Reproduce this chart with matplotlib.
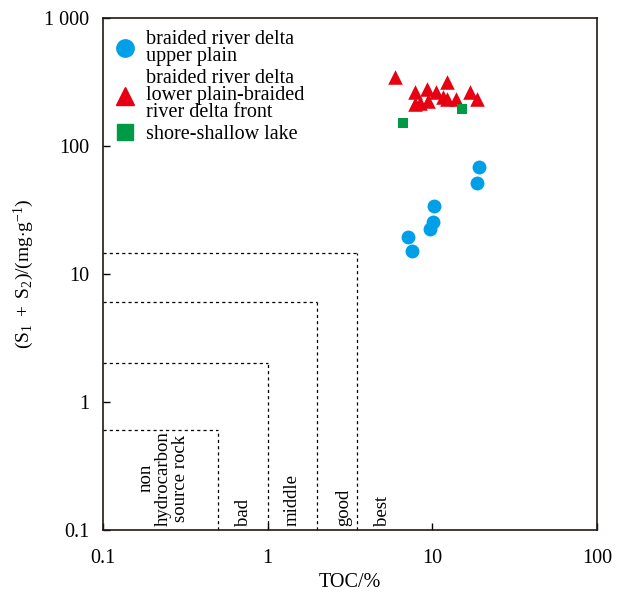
import matplotlib
matplotlib.use('Agg')
import matplotlib.pyplot as plt
from matplotlib.lines import Line2D

plt.rcParams['font.family'] = 'Liberation Serif'
plt.rcParams['mathtext.fontset'] = 'custom'
plt.rcParams['mathtext.rm'] = 'Liberation Serif'
plt.rcParams['mathtext.it'] = 'Liberation Serif:italic'

# upper plain (circles)
upper_toc = [19.2, 18.7, 10.2, 10.1, 9.7, 7.1, 7.5]
upper_s12 = [68.5, 51.4, 34.0, 25.5, 22.5, 19.5, 15.1]

# lower plain - delta front (triangles)
lower_toc = [5.9, 7.85, 9.3, 10.5, 12.3, 7.85, 8.4, 9.4, 11.6, 12.3, 13.9, 16.9, 18.7]
lower_s12 = [346, 264, 279, 264, 316, 213, 217, 225, 241, 233, 233, 264, 233]

# shore-shallow lake (squares)
lake_toc = [6.6, 15.1]
lake_s12 = [151, 195]

# evaluation boundaries
toc_limits = [0.5, 1, 2, 3.5]
s12_limits = [0.6, 2, 6, 14.5]
grade_labels = ['non\nhydrocarbon\nsource rock', 'bad', 'middle', 'good', 'best']
grade_x = [0.232, 0.71, 1.41, 2.9, 4.95]

blue = '#00A0E9'
red = '#E60012'
green = '#009944'

fig = plt.figure(figsize=(6.22, 5.95), dpi=100)
ax = fig.add_axes([0.1656, 0.1092, 0.7942, 0.8605])
ax.set_xscale('log')
ax.set_yscale('log')
ax.set_xlim(0.1, 100)
ax.set_ylim(0.1, 1000)

# dashed classification boxes
for tx, sy in zip(toc_limits, s12_limits):
    ax.plot([0.1, tx], [sy, sy], color='black', lw=0.9, ls=(0, (2.5, 2.5)))
    ax.plot([tx, tx], [0.1, sy], color='black', lw=0.9, ls=(0, (2.5, 2.5)))

for gx, lab in zip(grade_x, grade_labels):
    ax.text(gx, 0.108, lab, rotation=90, ha='center', va='bottom',
            multialignment='center', fontsize=13.5, linespacing=1.05)

ax.scatter(upper_toc, upper_s12, s=100, marker='o', color=blue, zorder=3, linewidths=0)
ax.scatter(lower_toc, lower_s12, s=110, marker='^', color=red, zorder=3, linewidths=0)
ax.scatter(lake_toc, lake_s12, s=55, marker='s', color=green, zorder=3, linewidths=0)

ax.set_xticks([0.1, 1, 10, 100])
ax.set_xticklabels(['0.1', '1', '10', '100'])
ax.set_yticks([0.1, 1, 10, 100, 1000])
ax.set_yticklabels(['0.1', '1', '10', '100', '1 000'])
ax.minorticks_off()
ax.tick_params(direction='in', length=5, width=1, labelsize=14.5, pad=10)
ax.tick_params(axis='x', pad=14)
for sp in ax.spines.values():
    sp.set_linewidth(1.2)
    sp.set_color('#231815')

ax.set_xlabel('TOC/%', fontsize=14.5, labelpad=3)
ax.set_ylabel(r'$\mathrm{(S_1\ +\ S_2)/(mg{\cdot}g^{-1})}$', fontsize=14, labelpad=6)

handles = [
    Line2D([], [], ls='none', marker='o', ms=12.5, color=blue),
    Line2D([], [], ls='none', marker='^', ms=13, color=red),
    Line2D([], [], ls='none', marker='s', ms=11, color=green),
]
labels = ['braided river delta\nupper plain',
          'braided river delta\nlower plain-braided\nriver delta front',
          'shore-shallow lake']
leg = ax.legend(handles, labels, loc='upper left', frameon=False, fontsize=14.5,
                handlelength=1.0, handletextpad=0.55, labelspacing=0.12,
                borderaxespad=0.3, borderpad=0.3)
for t in leg.get_texts():
    t.set_linespacing(0.88)

fig.savefig('out.png', dpi=100)
